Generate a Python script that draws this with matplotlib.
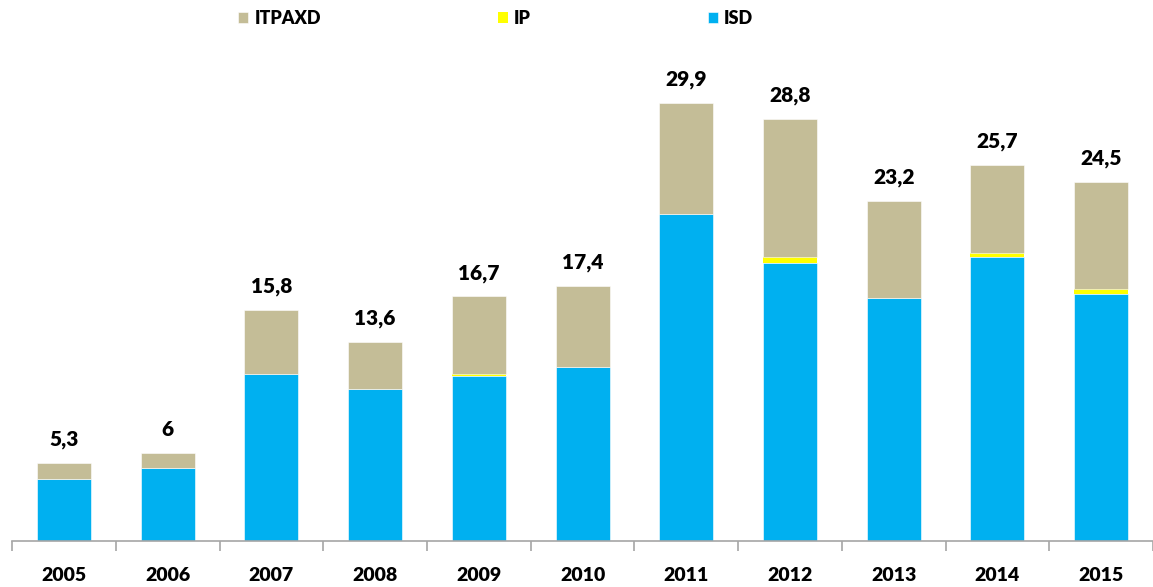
import matplotlib
matplotlib.use("Agg")
import matplotlib.pyplot as plt
import numpy as np

# -------------------
# Data
# -------------------
years = ["2005", "2006", "2007", "2008", "2009", "2010",
         "2011", "2012", "2013", "2014", "2015"]
isd = [4.2, 5.0, 11.4, 10.4, 11.3, 11.9, 22.3, 19.0, 16.6, 19.4, 16.9]
ip = [0.0, 0.0, 0.0, 0.0, 0.1, 0.0, 0.0, 0.4, 0.0, 0.3, 0.3]
itpaxd = [1.1, 1.0, 4.4, 3.2, 5.3, 5.5, 7.6, 9.4, 6.6, 6.0, 7.3]
totals = [5.3, 6, 15.8, 13.6, 16.7, 17.4, 29.9, 28.8, 23.2, 25.7, 24.5]

C_ISD = "#00B0F0"
C_IP = "#FFFF00"
C_ITPAXD = "#C4BD97"

plt.rcParams["font.family"] = ["Lato", "DejaVu Sans"]
plt.rcParams["font.weight"] = "bold"


def fmt(v):
    s = f"{v:g}"
    return s.replace(".", ",")


fig = plt.figure(figsize=(11.53, 5.87), dpi=100)
ax = fig.add_axes([0.0105, 0.0784, 0.9895, 0.853])

x = np.arange(len(years))
w = 0.52
isd_a = np.array(isd)
ip_a = np.array(ip)
it_a = np.array(itpaxd)

b_isd = ax.bar(x, isd_a, w, color=C_ISD, edgecolor="white", linewidth=0.4, label="ISD")
b_ip = ax.bar(x, ip_a, w, bottom=isd_a, color=C_IP, linewidth=0, label="IP")
b_it = ax.bar(x, it_a, w, bottom=isd_a + ip_a, color=C_ITPAXD,
              edgecolor="white", linewidth=0.4, label="ITPAXD")

for xi, top, tot in zip(x, isd_a + ip_a + it_a, totals):
    ax.annotate(fmt(tot), (xi, top), xytext=(0, 10), textcoords="offset points",
                ha="center", va="bottom", fontsize=15, fontweight="heavy", color="black")

ax.set_xlim(-0.5, len(years) - 0.5)
ax.set_ylim(0, 34.2)
ax.set_yticks([])
for s in ["top", "right", "left"]:
    ax.spines[s].set_visible(False)
ax.spines["bottom"].set_color("#a6a6a6")
ax.spines["bottom"].set_linewidth(1.2)

ax.set_xticks(x)
ax.set_xticklabels(years, fontsize=14, fontweight="heavy")
ax.tick_params(axis="x", which="major", length=0, pad=19)
ax.set_xticks(np.arange(-0.5, len(years), 1.0), minor=True)
ax.tick_params(axis="x", which="minor", length=7, width=1.2, color="#a6a6a6")

handles = [b_it, b_ip, b_isd]
fig.legend(handles, ["ITPAXD", "IP", "ISD"], loc="center", bbox_to_anchor=(0.43, 0.968),
           ncol=3, frameon=False, columnspacing=9.8,
           handlelength=0.55, handleheight=0.55, handletextpad=0.35,
           prop={"weight": "heavy", "size": 13})

fig.savefig("out.png", dpi=100, facecolor="white")
